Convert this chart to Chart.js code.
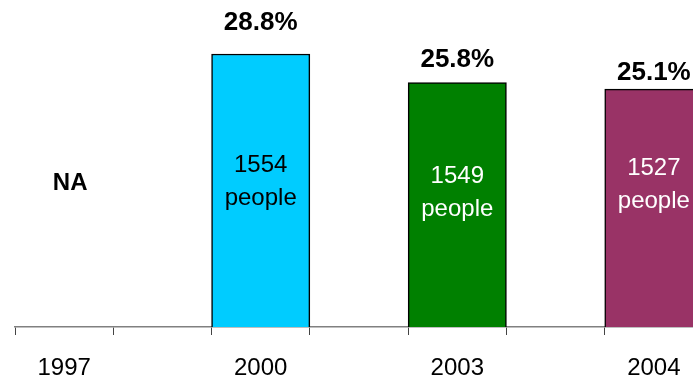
<!DOCTYPE html>
<html>
<head>
<meta charset="utf-8">
<script src="https://cdn.jsdelivr.net/npm/chart.js@4"></script>
<style>
  html, body { margin: 0; padding: 0; background: #fff; overflow: hidden; }
  #wrap { width: 720px; height: 378px; }
</style>
</head>
<body>
<div id="wrap"><canvas id="myChart"></canvas></div>
<script>
// survey years, share (%) and respondent counts; 1997 has no figure
const years = ["1997", "2000", "2003", "2004"];
const share = [null, 28.8, 25.8, 25.1];
const people = [null, 1554, 1549, 1527];

const barColors = ["#ffffff", "#00ccff", "#008000", "#993366"];
const innerText = ["#000000", "#000000", "#ffffff", "#ffffff"];
// how far each percent label sits above its bar (px)
const pctLift = [0, 33, 25, 18];
// where the head count block is centred, in axis units
const innerMid = [0, 15.5, 14.4, 15.2];

// every year gets an empty slot after it, like the original axis
const slots = [];
const slotValues = [];
const slotIndex = [];
years.forEach((y, i) => {
    slots.push(y);
    slotValues.push(share[i]);
    slotIndex.push(i);
    if (i < years.length - 1) {
        slots.push("");
        slotValues.push(null);
        slotIndex.push(-1);
    }
});

const FONT = "'Liberation Sans', Arial, sans-serif";

const barLabels = {
    id: "barLabels",
    afterDatasetsDraw(chart) {
        const ctx = chart.ctx;
        const meta = chart.getDatasetMeta(0);
        const yScale = chart.scales.y;
        ctx.save();
        ctx.textAlign = "center";
        ctx.textBaseline = "alphabetic";
        slotIndex.forEach((i, s) => {
            if (i < 0) return;
            const x = chart.scales.x.getPixelForValue(s);
            if (share[i] == null) {
                ctx.font = "bold 24px " + FONT;
                ctx.fillStyle = "#000";
                ctx.fillText("NA", x + 6, 181 + 8.6);
                return;
            }
            const bar = meta.data[s];
            // percentage above the bar
            ctx.font = "bold 26px " + FONT;
            ctx.fillStyle = "#000";
            ctx.fillText(share[i].toFixed(1) + "%", bar.x, bar.y - pctLift[i] + 9.3);
            // head count inside the bar
            const mid = yScale.getPixelForValue(innerMid[i]);
            ctx.font = "24px " + FONT;
            ctx.fillStyle = innerText[i];
            ctx.fillText(String(people[i]), bar.x, mid - 16.5 + 8.6);
            ctx.fillText("people", bar.x, mid + 16.5 + 8.6);
        });
        ctx.restore();
    }
};

const ctx = document.getElementById("myChart").getContext("2d");
const myChart = new Chart(ctx, {
    type: "bar",
    data: {
        labels: slots,
        datasets: [
            {
                data: slotValues,
                backgroundColor: slotIndex.map((i) => (i < 0 ? "#fff" : barColors[i])),
                borderColor: "#000",
                borderWidth: 1.5,
                barPercentage: 1,
                categoryPercentage: 1,
            },
        ],
    },
    options: {
        responsive: true,
        maintainAspectRatio: false,
        animation: false,
        layout: { padding: { left: 15, right: 17, top: 0, bottom: 0 } },
        plugins: {
            legend: { display: false },
            tooltip: { enabled: false },
        },
        scales: {
            x: {
                offset: true,
                grid: {
                    offset: true,
                    drawOnChartArea: false,
                    drawTicks: true,
                    tickLength: 8,
                    color: "#444",
                    lineWidth: 1,
                },
                border: { display: true, color: "#808080", width: 1.5 },
                ticks: {
                    color: "#000",
                    font: { family: FONT, size: 24 },
                    padding: 19,
                    maxRotation: 0,
                    autoSkip: false,
                },
                afterFit(scale) {
                    scale.height = 51;
                },
            },
            y: {
                display: false,
                min: 0,
                max: 34.5,
            },
        },
    },
    plugins: [barLabels],
});
</script>
</body>
</html>
